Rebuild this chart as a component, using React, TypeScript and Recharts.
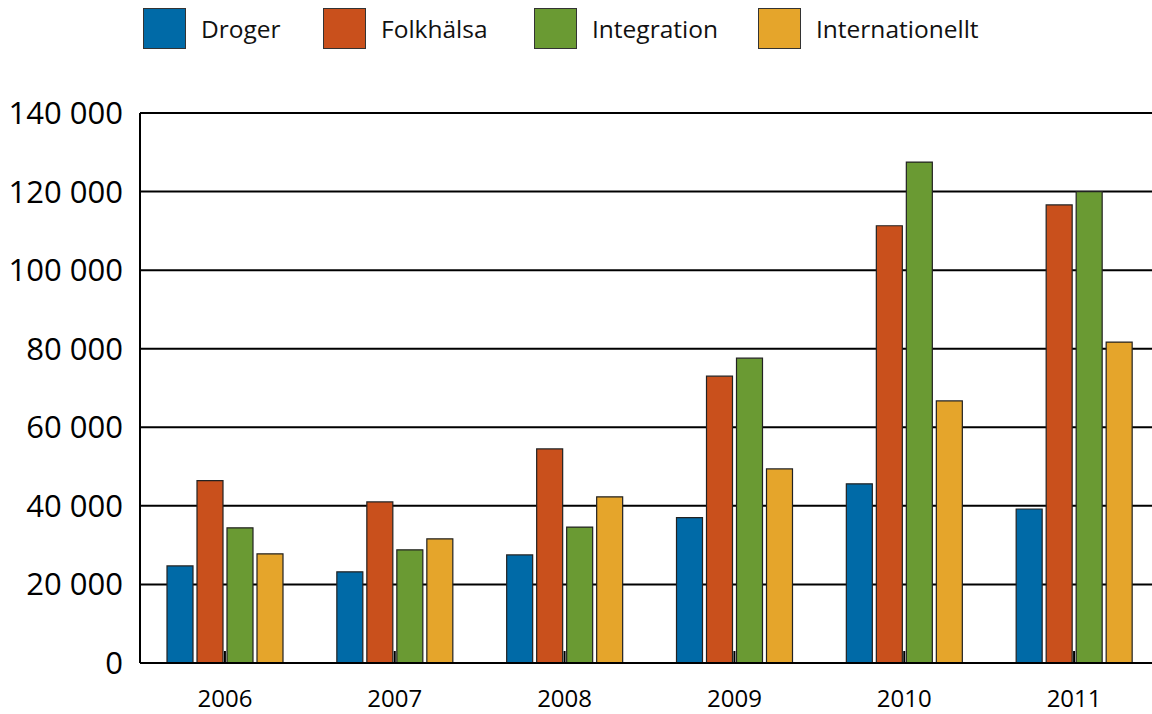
import { Bar, BarChart, CartesianGrid, XAxis, YAxis } from "recharts";

const years = ["2006", "2007", "2008", "2009", "2010", "2011"];
const droger = [24700, 23200, 27500, 37000, 45600, 39200];
const folkhalsa = [46400, 41000, 54500, 73000, 111300, 116600];
const integration = [34400, 28800, 34600, 77600, 127500, 120000];
const internationellt = [27800, 31600, 42300, 49400, 66700, 81700];
const yTicks = [0, 20000, 40000, 60000, 80000, 100000, 120000, 140000];

const seriesList = [
  { key: "droger", name: "Droger", color: "#006AA7", values: droger },
  { key: "folkhalsa", name: "Folkhälsa", color: "#C9501C", values: folkhalsa },
  { key: "integration", name: "Integration", color: "#6A9A33", values: integration },
  { key: "internationellt", name: "Internationellt", color: "#E5A52B", values: internationellt },
];

// legend item widths (swatch + label + spacing)
const legendWidths = [180, 211, 224, 260];

const data = years.map((year, i) => {
  const row: Record<string, string | number> = { year };
  seriesList.forEach((s) => {
    row[s.key] = s.values[i];
  });
  return row;
});

const font = "'Open Sans', 'Noto Sans', sans-serif";

const fmt = (v: number) => String(v).replace(/\B(?=(\d{3})+(?!\d))/g, " ");

const YearTick = (props: any) => {
  const { x, y, payload } = props;
  return (
    <g>
      <line x1={x} x2={x} y1={y - 12} y2={y} stroke="#000" strokeWidth={2} />
      <text x={x} y={y + 44} textAnchor="middle" fontSize={24} fill="#000" fontFamily={font}>
        {payload.value}
      </text>
    </g>
  );
};

const App = () => {
  return (
    <div
      style={{
        position: "absolute",
        left: 0,
        top: 0,
        width: 1152,
        height: 714,
        background: "#fff",
        overflow: "hidden",
      }}
    >
      <div
        style={{
          position: "absolute",
          left: 143,
          top: 8,
          display: "flex",
          alignItems: "center",
          fontFamily: font,
          fontSize: 24.5,
          color: "#111",
          zIndex: 1,
        }}
      >
        {seriesList.map((s, i) => (
          <div key={s.key} style={{ display: "flex", alignItems: "center", width: legendWidths[i] }}>
            <div
              style={{
                width: 41,
                height: 39,
                background: s.color,
                border: "1px solid #333",
                marginRight: 15,
                flexShrink: 0,
              }}
            />
            <span style={{ whiteSpace: "nowrap" }}>{s.name}</span>
          </div>
        ))}
      </div>
      <BarChart
        width={1159}
        height={714}
        data={data}
        margin={{ top: 113, right: 0, left: 0, bottom: 0 }}
        barSize={26}
        barGap={4}
      >
        <CartesianGrid vertical={false} stroke="#000" strokeWidth={2} />
        <XAxis
          dataKey="year"
          height={51}
          axisLine={{ stroke: "#000", strokeWidth: 2 }}
          tickLine={false}
          tickSize={0}
          tickMargin={0}
          tick={<YearTick />}
          interval={0}
        />
        <YAxis
          width={140}
          domain={[0, 140000]}
          ticks={yTicks}
          tickFormatter={fmt}
          axisLine={{ stroke: "#000", strokeWidth: 2 }}
          tickLine={false}
          tickSize={0}
          tickMargin={17}
          tick={{ fontSize: 31, fill: "#000", fontFamily: font }}
        />
        {seriesList.map((s) => (
          <Bar
            key={s.key}
            dataKey={s.key}
            name={s.name}
            fill={s.color}
            stroke="#222"
            strokeWidth={1.2}
            isAnimationActive={false}
          />
        ))}
      </BarChart>
    </div>
  );
};

export default App;
